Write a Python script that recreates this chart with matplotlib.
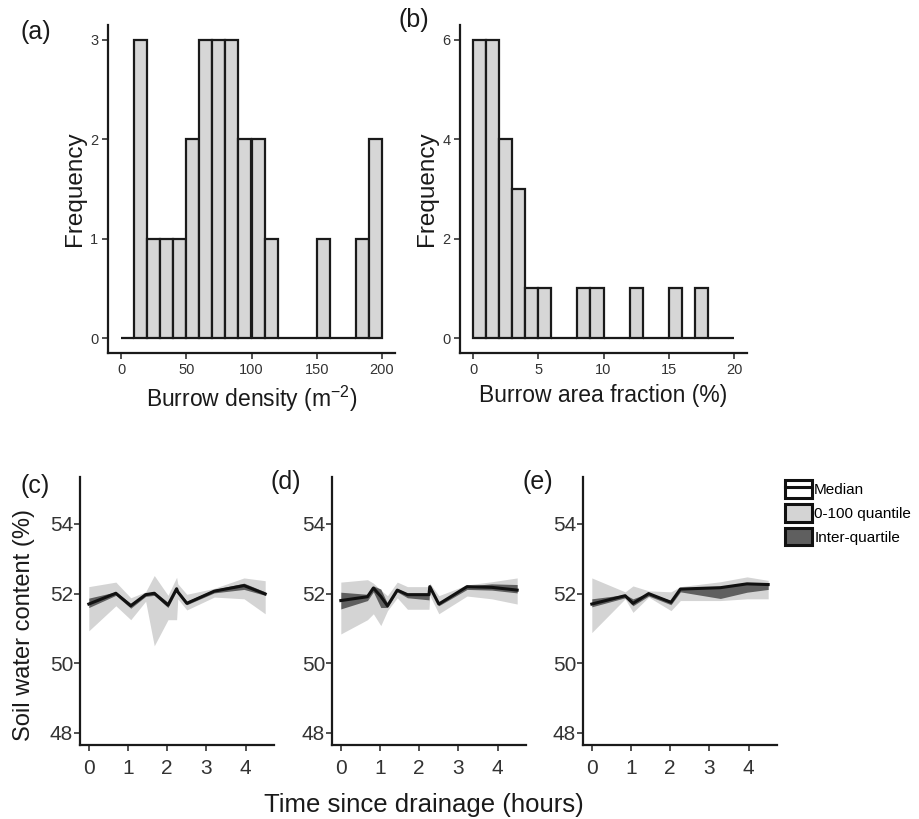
import matplotlib
matplotlib.use("Agg")
import matplotlib.pyplot as plt
from matplotlib.patches import Patch
from matplotlib.lines import Line2D
import numpy as np

plt.rcParams['font.family'] = ['Liberation Sans', 'DejaVu Sans']
plt.rcParams['mathtext.default'] = 'regular'

# --- histogram data ---
density_edges = np.arange(0, 210, 10)
density_counts = [0, 3, 1, 1, 1, 2, 3, 3, 3, 2, 2, 1, 0, 0, 0, 1, 0, 0, 1, 2]

area_edges = np.arange(0, 21, 1)
area_counts = [6, 6, 4, 3, 1, 1, 0, 0, 1, 1, 0, 0, 1, 0, 0, 1, 0, 1, 0, 0]

# --- soil water content, panel (c) ---
t_c = [0, 0.69, 1.07, 1.45, 1.67, 2.02, 2.24, 2.27, 2.5, 3.2, 3.96, 4.5]
med_c = [51.70, 52.01, 51.65, 51.97, 52.01, 51.67, 52.14, 52.05, 51.72, 52.07, 52.23, 51.99]
hi_c = [52.20, 52.33, 51.88, 52.05, 52.52, 51.95, 52.47, 52.28, 51.98, 52.15, 52.45, 52.37]
lo_c = [50.93, 51.65, 51.25, 51.78, 50.50, 51.25, 51.25, 51.85, 51.53, 51.90, 51.85, 51.42]
q3_c = [51.87, 52.05, 51.72, 52.00, 52.06, 51.75, 52.18, 52.10, 51.78, 52.12, 52.30, 52.05]
q1_c = [51.60, 51.95, 51.58, 51.92, 51.95, 51.60, 52.08, 52.00, 51.68, 52.02, 52.12, 51.95]

# --- panel (d) ---
t_d = [0, 0.68, 0.83, 1.02, 1.19, 1.44, 1.70, 2.25, 2.27, 2.5, 3.22, 3.85, 4.5]
med_d = [51.80, 51.91, 52.16, 51.92, 51.65, 52.10, 51.97, 51.97, 52.20, 51.70, 52.20, 52.18, 52.10]
hi_d = [52.33, 52.40, 52.30, 52.10, 51.94, 52.33, 52.20, 52.20, 52.30, 51.94, 52.25, 52.34, 52.45]
lo_d = [50.84, 51.25, 51.42, 51.08, 51.51, 51.88, 51.55, 51.55, 51.95, 51.42, 51.93, 51.85, 51.70]
q3_d = [52.04, 51.98, 52.22, 52.13, 51.72, 52.15, 52.00, 52.00, 52.25, 51.75, 52.22, 52.28, 52.26]
q1_d = [51.56, 51.80, 52.05, 51.60, 51.60, 52.05, 51.88, 51.82, 52.15, 51.65, 52.12, 52.10, 52.02]

# --- panel (e) ---
t_e = [0, 0.85, 1.05, 1.45, 2.02, 2.26, 3.28, 3.96, 4.5]
med_e = [51.70, 51.94, 51.72, 52.00, 51.75, 52.13, 52.17, 52.28, 52.26]
hi_e = [52.45, 52.05, 52.22, 52.08, 52.05, 52.20, 52.34, 52.48, 52.38]
lo_e = [50.88, 51.85, 51.46, 51.90, 51.51, 51.80, 51.80, 51.85, 51.85]
q3_e = [51.85, 51.97, 51.85, 52.02, 51.80, 52.16, 52.20, 52.31, 52.30]
q1_e = [51.62, 51.88, 51.65, 51.93, 51.68, 52.05, 51.86, 52.04, 52.12]

LIGHT = '#d4d4d4'
DARK = '#5f5f5f'
TICK_COLOR = '#333333'

fig = plt.figure(figsize=(9.19, 8.19), dpi=100)


def style_axes(ax, tick_size):
    for side in ('top', 'right'):
        ax.spines[side].set_visible(False)
    for side in ('left', 'bottom'):
        ax.spines[side].set_linewidth(1.6)
        ax.spines[side].set_color('#1a1a1a')
    ax.tick_params(length=4, width=1.2, color=TICK_COLOR, labelcolor=TICK_COLOR,
                   labelsize=tick_size, pad=3)


def hist_panel(rect, edges, counts, xlim, ylim, xticks, yticks, xlabel):
    ax = fig.add_axes(rect)
    ax.bar(edges[:-1], counts, width=np.diff(edges), align='edge',
           color='#d6d6d6', edgecolor='#1a1a1a', linewidth=1.6)
    ax.set_xlim(*xlim)
    ax.set_ylim(*ylim)
    ax.set_xticks(xticks)
    ax.set_yticks(yticks)
    style_axes(ax, 10.5)
    ax.set_xlabel(xlabel, fontsize=16.5, color='#1a1a1a', labelpad=5)
    ax.set_ylabel('Frequency', fontsize=17.5, color='#1a1a1a', labelpad=3)
    return ax


# (a) burrow density
hist_panel([108 / 919, 1 - 353 / 819, 287 / 919, 328 / 819],
           density_edges, density_counts, (-10, 210), (-0.15, 3.15),
           [0, 50, 100, 150, 200], [0, 1, 2, 3], 'Burrow density (m$^{-2}$)')

# (b) burrow area fraction
hist_panel([460 / 919, 1 - 353 / 819, 287 / 919, 328 / 819],
           area_edges, area_counts, (-1, 21), (-0.3, 6.3),
           [0, 5, 10, 15, 20], [0, 2, 4, 6], 'Burrow area fraction (%)')

# (c)-(e) soil water content
panels = [
    (80, t_c, med_c, lo_c, hi_c, q1_c, q3_c),
    (332, t_d, med_d, lo_d, hi_d, q1_d, q3_d),
    (583, t_e, med_e, lo_e, hi_e, q1_e, q3_e),
]
for left, t, med, lo, hi, q1, q3 in panels:
    ax = fig.add_axes([left / 919, 1 - 745 / 819, 194 / 919, 268 / 819])
    ax.fill_between(t, lo, hi, color=LIGHT, linewidth=0)
    ax.fill_between(t, q1, q3, color=DARK, linewidth=0)
    ax.plot(t, med, color='#111111', linewidth=2.2)
    ax.set_xlim(-0.225, 4.725)
    ax.set_ylim(47.65, 55.35)
    ax.set_xticks([0, 1, 2, 3, 4])
    ax.set_yticks([48, 50, 52, 54])
    style_axes(ax, 15)
    ax.tick_params(axis='y', pad=1)
    ax.tick_params(axis='x', pad=6)

# panel letters
for x, y, s in [(21, 32, '(a)'), (399, 20, '(b)'), (20, 486, '(c)'),
                (271, 482, '(d)'), (522, 482, '(e)')]:
    fig.text(x / 919, 1 - y / 819, s, fontsize=18, va='center', ha='left', color='#1a1a1a')

fig.text(24 / 919, 1 - 625 / 819, 'Soil water content (%)', rotation=90,
         fontsize=17, va='center', ha='center', color='#1a1a1a')
fig.text(424 / 919, 1 - 805 / 819, 'Time since drainage (hours)',
         fontsize=18.5, va='center', ha='center', color='#1a1a1a')

# legend
handles = [
    (Patch(facecolor='white', edgecolor='#111111', linewidth=2.2),
     Line2D([], [], color='#111111', linewidth=2.2)),
    Patch(facecolor=LIGHT, edgecolor='#111111', linewidth=2.2),
    Patch(facecolor=DARK, edgecolor='#111111', linewidth=2.2),
]
fig.legend(handles, ['Median', '0-100 quantile', 'Inter-quartile'],
           loc='upper left', bbox_to_anchor=(779 / 919, 1 - 474 / 819),
           frameon=False, fontsize=11, handlelength=1.75, handleheight=1.4,
           handletextpad=0.15, labelspacing=0.4, borderaxespad=0)

fig.savefig('out.png', dpi=100)
